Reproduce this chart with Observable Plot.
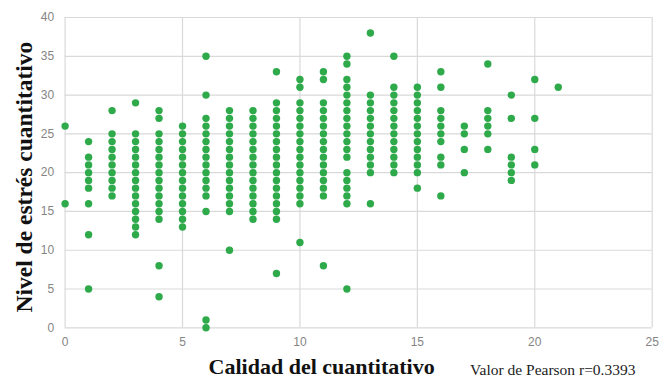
<!DOCTYPE html>
<html>
<head>
<meta charset="utf-8">
<script src="https://cdn.jsdelivr.net/npm/d3@7"></script>
<script src="https://cdn.jsdelivr.net/npm/@observablehq/plot@0.6"></script>
<style>
  html, body { margin: 0; padding: 0; background: #fff; }
</style>
</head>
<body>
<div id="chart"></div>
<script>
// Calidad del cuantitativo (x) values and the stress levels (y) observed at each
const calidad = [0,1,2,3,4,5,6,7,8,9,10,11,12,13,14,15,16,17,18,19,20,21];
const c0  = [26,16];
const c1  = [24,22,21,20,19,18,16,12,5];
const c2  = [28,25,24,23,22,21,20,19,18,17];
const c3  = [29,25,24,23,22,21,20,19,18,17,16,15,14,13,12];
const c4  = [28,27,25,24,23,22,21,20,19,18,17,16,15,14,8,4];
const c5  = [26,25,24,23,22,21,20,19,18,17,16,15,14,13];
const c6  = [35,30,27,26,25,24,23,22,21,20,19,18,17,15,1,0];
const c7  = [28,27,26,25,24,23,22,21,20,19,18,17,16,15,10];
const c8  = [28,27,26,25,24,23,22,21,20,19,18,17,16,15,14];
const c9  = [33,29,28,27,26,25,24,23,22,21,20,19,18,17,16,15,14,7];
const c10 = [32,31,29,28,27,26,25,24,23,22,21,20,19,18,17,16,11];
const c11 = [33,32,29,28,27,26,25,24,23,22,21,20,19,18,17,8];
const c12 = [35,34,32,31,30,29,28,27,26,25,24,23,22,20,19,18,17,16,5];
const c13 = [38,30,29,28,27,26,25,24,23,22,21,20,16];
const c14 = [35,31,30,29,28,27,26,25,24,23,22,21,20];
const c15 = [31,30,29,28,27,26,25,24,23,22,21,20,18];
const c16 = [33,31,28,27,26,25,24,22,21,17];
const c17 = [26,25,23,20];
const c18 = [34,28,27,26,25,23];
const c19 = [30,27,22,21,20,19];
const c20 = [32,27,23,21];
const c21 = [31];
const estresColumns = [c0,c1,c2,c3,c4,c5,c6,c7,c8,c9,c10,c11,c12,c13,c14,c15,c16,c17,c18,c19,c20,c21];

const xTicks = [0,5,10,15,20,25];
const yTicks = [0,5,10,15,20,25,30,35,40];

const xTitle = "Calidad del cuantitativo";
const yTitle = "Nivel de estrés cuantitativo";
const caption = "Valor de Pearson r=0.3393";

const data = [];
calidad.forEach((c, i) => estresColumns[i].forEach(e => data.push({calidad: c, estres: e})));

const chart = Plot.plot({
  width: 669,
  height: 379,
  marginLeft: 64.6,
  marginRight: 17.3,
  marginTop: 17,
  marginBottom: 51.7,
  x: {domain: [0, 25]},
  y: {domain: [0, 40]},
  style: {background: "#fff", fontFamily: "'Liberation Sans', Arial, sans-serif"},
  marks: [
    Plot.ruleX(xTicks, {stroke: "#d9d9d9", strokeWidth: 1.2}),
    Plot.ruleY(yTicks, {stroke: "#d9d9d9", strokeWidth: 1.2}),
    Plot.axisX(xTicks, {tickSize: 0, tickPadding: 10, fontSize: 12, fill: "#858585", label: null}),
    Plot.axisY(yTicks, {tickSize: 0, tickPadding: 11, fontSize: 12, fill: "#858585", label: null}),
    Plot.dot(data, {x: "calidad", y: "estres", r: 3.7, fill: "#2eaa4b"}),
    Plot.text([yTitle], {
      frameAnchor: "left", textAnchor: "middle", lineAnchor: "middle",
      rotate: -90, dx: -40.6, dy: 4.4,
      fontFamily: "'Liberation Serif', 'DejaVu Serif', serif", fontWeight: "bold",
      fontSize: 23.5, fill: "#111"
    }),
    Plot.text([xTitle], {
      frameAnchor: "bottom", textAnchor: "middle", lineAnchor: "middle",
      dx: -37, dy: 39.5,
      fontFamily: "'Liberation Serif', 'DejaVu Serif', serif", fontWeight: "bold",
      fontSize: 22, fill: "#111"
    }),
    Plot.text([caption], {
      frameAnchor: "bottom-right", textAnchor: "end", lineAnchor: "middle",
      dx: -16.7, dy: 42,
      fontFamily: "'Liberation Serif', 'DejaVu Serif', serif",
      fontSize: 15.5, fill: "#222"
    })
  ]
});
document.getElementById("chart").appendChild(chart);
</script>
</body>
</html>
